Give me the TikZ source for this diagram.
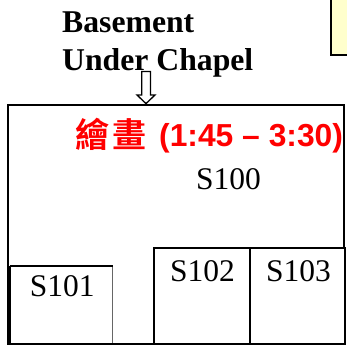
\documentclass[tikz,border=0pt]{standalone}
\usepackage{fontspec}
\setmainfont{Liberation Serif}
\newfontfamily\redsans{Liberation Sans}
\newfontfamily\cjk{Noto Sans CJK TC}[BoldFont={Noto Sans CJK TC Bold}]
\definecolor{noteyellow}{HTML}{FFFFCC}
\tikzset{
  room/.style={draw=black,line width=1.9pt,fill=white,inner sep=0pt,outer sep=0pt,anchor=north west},
  roomlabel/.style={font=\fontsize{31.5}{34}\selectfont,inner sep=0pt,anchor=base west,text=black},
  heading/.style={font=\bfseries\fontsize{31.7}{34}\selectfont,inner sep=0pt,anchor=base west,text=black},
  redlabel/.style={text=red,inner sep=0pt,anchor=base west},
}
\begin{document}
\begin{tikzpicture}[x=1pt,y=-1pt]
\useasboundingbox (0,0) rectangle (346,347);
\fill[white] (0,0) rectangle (346,347);
% note corner
\draw[line width=1.9pt,fill=noteyellow] (350,-3) rectangle (330.7,55);
% main room
\node[room,minimum width=336pt,minimum height=239.6pt] (main) at (8.2,104.6) {};
\node[room,minimum width=95.5pt,minimum height=96pt] (s102) at (154.3,248.2) {};
\node[room,minimum width=95.2pt,minimum height=96pt] (s103) at (249.8,248.2) {};
\node[room,draw=none,minimum width=102.5pt,minimum height=78.4pt] (s101) at (10,265.8) {};
\draw[line width=1.8pt,draw=black!60] (s101.north east) -- (s101.south east);
\draw[line width=1.9pt] (s101.north east) -- (s101.north west);
\draw[line width=2.8pt] (s101.north west) -- (s101.south west);
\draw[line width=1.9pt] (s101.south west) -- (s101.south east);
% arrow
\coordinate (arrowtip) at (146,103.6);
\draw[line width=1.3pt,fill=white] (141.8,71.5) -- (150.5,71.5) -- (150.5,95) -- (155,95) -- (arrowtip) -- (137,95) -- (141.8,95) -- cycle;
% texts
\node[heading] (h1) at (62,33) {Basement};
\node[heading] (h2) at (62,71) {Under Chapel};
\node[redlabel,font=\cjk\bfseries\fontsize{34}{38}\selectfont] (zh) at (75.5,148) {繪\hspace{3pt}畫};
\node[redlabel,font=\redsans\bfseries\fontsize{31.8}{34}\selectfont] (time) at (159,147) {(1:45 – 3:30)};
\node[roomlabel] (t100) at (196,189) {S100};
\node[roomlabel] (t101) at (29.7,296) {S101};
\node[roomlabel] (t102) at (170,281.5) {S102};
\node[roomlabel] (t103) at (266,281.5) {S103};
\end{tikzpicture}
\end{document}
